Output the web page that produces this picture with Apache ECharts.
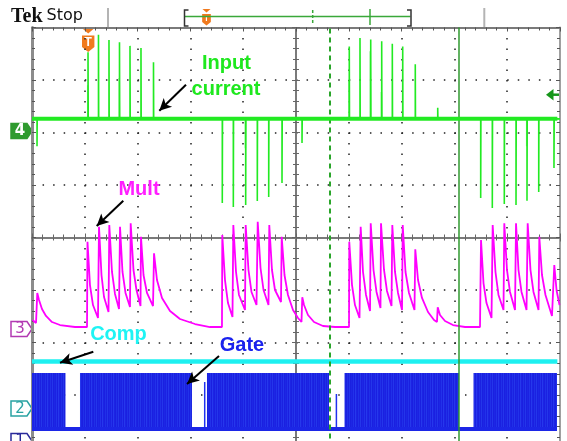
<!DOCTYPE html>
<html><head><meta charset="utf-8">
<script src="https://cdn.jsdelivr.net/npm/echarts@6/dist/echarts.min.js"></script>
<style>html,body{margin:0;padding:0;background:#fff}#c{width:567px;height:441px}</style>
</head><body><div id="c"></div>
<script>
// ---- data (time and amplitude in screen divisions, centre = 0) ----
const inputBase = 2.26;
const inputSpikeTimes  = [-4.905,-3.939,-3.741,-3.542,-3.343,-3.144,-2.936,-2.699,
  -1.396,-1.187,-0.953,-0.733,-0.517,-0.265, 0.114,
  1.009,1.212,1.415,1.623,1.824,2.021,2.259, 2.684,
  3.498,3.718,3.945,4.167,4.375,4.597,4.886];
const inputSpikeValues = [1.74,3.53,3.86,3.76,3.72,3.65,3.61,3.34,
  0.657,0.581,0.619,0.695,0.771,1.038, 1.80,
  3.64,3.80,3.77,3.74,3.69,3.64,3.30, 2.47,
  0.752,0.562,0.638,0.619,0.701,0.867,1.324];
const ghostSpikeTimes  = [-3.945,-3.349,-0.959,1.003,1.406,1.617,4.369];
const ghostSpikeValues = [2.90,3.04,1.70,2.98,3.55,2.77,1.74];

const multPoints = [
 [-4.99,-1.571],[-4.924,-1.629],[-4.900,-1.057],[-4.867,-1.190],[-4.811,-1.362],[-4.735,-1.495],[-4.621,-1.610],[-4.470,-1.667],[-4.186,-1.705],[-3.958,-1.705],
 [-3.949,-0.080],[-3.902,-0.905],[-3.845,-1.286],[-3.750,-1.533],
 [-3.731,0.206],[-3.684,-0.714],[-3.636,-1.133],[-3.551,-1.419],
 [-3.536,0.238],[-3.485,-0.657],[-3.428,-1.076],[-3.352,-1.362],
 [-3.333,0.206],[-3.286,-0.657],[-3.229,-1.057],[-3.144,-1.324],
 [-3.131,0.270],[-3.078,-0.619],[-3.021,-1.0],[-2.945,-1.305],
 [-2.936,0.015],[-2.888,-0.714],[-2.822,-1.057],[-2.708,-1.305],
 [-2.689,-0.301],[-2.633,-0.810],[-2.538,-1.152],[-2.386,-1.40],[-2.197,-1.552],[-1.913,-1.648],[-1.629,-1.705],[-1.402,-1.705],
 [-1.396,0.048],[-1.345,-0.810],[-1.288,-1.248],[-1.203,-1.514],
 [-1.187,0.238],[-1.136,-0.657],[-1.080,-1.095],[-0.966,-1.381],
 [-0.953,0.238],[-0.900,-0.619],[-0.843,-1.038],[-0.748,-1.286],
 [-0.725,0.301],[-0.672,-0.581],[-0.615,-1.0],[-0.521,-1.286],
 [-0.506,0.238],[-0.455,-0.619],[-0.398,-1.0],[-0.284,-1.229],
 [-0.271,0.015],[-0.218,-0.714],[-0.152,-1.095],[-0.057,-1.381],[0.038,-1.533],[0.104,-1.610],
 [0.119,-1.139],[0.152,-1.286],[0.227,-1.476],[0.341,-1.610],[0.511,-1.686],[0.739,-1.705],[1.004,-1.705],
 [1.009,-0.080],[1.061,-0.905],[1.117,-1.286],[1.203,-1.533],
 [1.225,0.206],[1.269,-0.657],[1.326,-1.095],[1.402,-1.4],
 [1.415,0.270],[1.468,-0.619],[1.525,-1.038],[1.600,-1.343],
 [1.610,0.270],[1.667,-0.619],[1.723,-1.019],[1.809,-1.305],
 [1.824,0.238],[1.875,-0.657],[1.932,-1.057],[2.008,-1.381],
 [2.021,0.238],[2.074,-0.657],[2.140,-1.057],[2.244,-1.381],
 [2.259,-0.225],[2.311,-0.810],[2.386,-1.152],[2.500,-1.419],[2.614,-1.571],[2.670,-1.610],
 [2.684,-1.330],[2.727,-1.476],[2.822,-1.590],[2.973,-1.667],[3.201,-1.705],[3.485,-1.705],
 [3.504,-0.048],[3.551,-0.867],[3.608,-1.248],[3.703,-1.533],
 [3.725,0.238],[3.778,-0.657],[3.835,-1.095],[3.930,-1.381],
 [3.945,0.270],[3.996,-0.619],[4.053,-1.038],[4.148,-1.381],
 [4.167,0.270],[4.214,-0.619],[4.271,-1.038],[4.366,-1.381],
 [4.388,0.270],[4.441,-0.619],[4.498,-1.038],[4.593,-1.381],
 [4.608,0.015],[4.659,-0.714],[4.725,-1.095],[4.848,-1.495],[4.877,-1.533],
 [4.892,-0.524],[4.934,-1.0],[4.991,-1.286]
];

const compLevel = -2.362;
const gateHigh = -2.581;
const gateLow = -3.648;
const gateOnStart = [-5.0, -4.091, -1.686, 0.919, 3.362];
const gateOnEnd   = [-4.366, -1.970, 0.625, 3.087, 4.943];
const gatePulseTimes  = [-1.729, 0.765];
const gatePulseValues = [-2.752, -2.981];
const gateEnd = 4.943;
const cursorTimes = [0.625, 3.087];

// ---- build ----
function spikeLine(times, values, base) {
  const d = [[-5, base]];
  times.forEach((t, i) => { d.push([t, base], [t, values[i]], [t + 0.004, base]); });
  d.push([5, base]);
  return d;
}

// subtle striped fill texture for the dense gate switching
const stripe = document.createElement('canvas');
stripe.width = 11; stripe.height = 4;
(function () {
  const c = stripe.getContext('2d');
  const cols = ['#1b22e2', '#2232ea', '#1a1fe0', '#2638ec', '#1c24e4', '#1a20e0', '#2030e8', '#1b21e1', '#2436ea', '#1a20e0', '#1d27e5'];
  cols.forEach((col, i) => { c.fillStyle = col; c.fillRect(i, 0, 1, 4); });
})();

const chart = echarts.init(document.getElementById('c'));
const G = {left: 32, top: 27.5, width: 528, height: 420, containLabel: false, outerBoundsMode: 'none'};

function centreAxis(pos, zeroIdx) {
  const a = {
    type: 'value', gridIndex: 0, position: pos,
    axisLine: {show: true, onZero: true, lineStyle: {color: '#7a7a7a', width: 2, type: [1, 1.1]}},
    axisTick: {show: true, length: 4, lineStyle: {color: '#666', width: 1}},
    minorTick: {show: true, splitNumber: 5, length: 3, lineStyle: {color: '#666', width: 1}},
    axisLabel: {show: false}, splitLine: {show: false}
  };
  if (zeroIdx != null) a.axisLine.onZeroAxisIndex = zeroIdx;
  return a;
}
function borderAxis(pos, color, w) {
  return {
    type: 'value', gridIndex: 1, position: pos,
    axisLine: {show: true, onZero: false, lineStyle: {color: color, width: w}},
    axisTick: {show: true, inside: true, length: 4, lineStyle: {color: '#555'}},
    minorTick: {show: true, splitNumber: 5, length: 3, lineStyle: {color: '#555'}},
    axisLabel: {show: false}, splitLine: {show: false}
  };
}

const x0 = Object.assign(centreAxis('bottom'), {min: -5, max: 5, interval: 1,
  splitLine: {show: true, lineStyle: {color: '#222', width: 1.5, type: [1.5, 9]}}});
const x1 = Object.assign(centreAxis('top', 0), {min: -5, max: 5, interval: 1});
const x2 = Object.assign(borderAxis('top', '#7a7a7a', 2), {min: -5, max: 5, interval: 1});
const y0 = Object.assign(centreAxis('left'), {min: -4, max: 4, interval: 1,
  splitLine: {show: true, lineStyle: {color: '#222', width: 1.5, type: [1.5, 9.06]}}});
const y1 = Object.assign(centreAxis('right', 0), {min: -4, max: 4, interval: 1});
const y2 = Object.assign(borderAxis('left', '#8c8c8c', 3), {min: -4, max: 4, interval: 1});
const y3 = Object.assign(borderAxis('right', '#a0a0a0', 2), {min: -4, max: 4, interval: 1});

function tMarker(cx, top, s) {
  return {
    type: 'group', z: 100, children: [
      {type: 'polygon', shape: {points: [[cx - 5.8*s, top], [cx + 5.8*s, top], [cx, top + 5*s]]}, style: {fill: '#f07a1e'}},
      {type: 'polygon', shape: {points: [[cx - 6.2*s, top + 7*s], [cx + 6.2*s, top + 7*s], [cx + 6.2*s, top + 18.5*s], [cx, top + 23.5*s], [cx - 6.2*s, top + 18.5*s]]}, style: {fill: '#f07a1e'}},
      {type: 'text', style: {text: 'T', x: cx, y: top + 14*s, align: 'center', verticalAlign: 'middle', fill: '#fff', font: 'bold ' + Math.round(12*s) + 'px "Liberation Sans"'}}
    ]
  };
}
function chMarker(label, yc, stroke, fill, textColor) {
  return {
    type: 'group', z: 100, children: [
      {type: 'polygon', shape: {points: [[11, yc - 7.5], [27, yc - 7.5], [32, yc], [27, yc + 7.5], [11, yc + 7.5]]}, style: {fill: fill, stroke: stroke, lineWidth: 1.5}},
      {type: 'text', style: {text: label, x: 20, y: yc + 0.5, align: 'center', verticalAlign: 'middle', fill: textColor, font: (fill === '#fff' ? '' : 'bold ') + '15px "DejaVu Sans"'}}
    ]
  };
}
function label(text, x, y, color) {
  return {type: 'text', z: 100, style: {text: text, x: x, y: y, align: 'center', verticalAlign: 'middle', fill: color, font: 'bold 20px "Liberation Sans"'}};
}
function seg(pts, color, w, dash) {
  return {type: 'polyline', z: 100, shape: {points: pts}, style: {stroke: color, lineWidth: w, lineDash: dash || null, fill: null}};
}

const graphics = [
  {type: 'text', z: 100, style: {text: 'Tek', x: 11, y: 16.5, verticalAlign: 'middle', fill: '#111', font: 'bold 20px "Liberation Serif"'}},
  {type: 'text', z: 100, style: {text: 'Stop', x: 46.5, y: 16, verticalAlign: 'middle', fill: '#111', font: '16px "DejaVu Sans"'}},
  seg([[108, 8], [108, 27]], '#b4b4b4', 2),
  seg([[484.3, 8], [484.3, 27]], '#b4b4b4', 2),
  seg([[185, 16.5], [410.5, 16.5]], '#3aa83a', 1.5),
  seg([[188.5, 10], [184.5, 10], [184.5, 26], [188.5, 26]], '#333', 1.5),
  seg([[407, 10], [411, 10], [411, 26], [407, 26]], '#333', 1.5),
  seg([[312.7, 10], [312.7, 25]], '#3aa83a', 1.5, [3, 2]),
  seg([[370, 9], [370, 25]], '#3aa83a', 1.5),
  tMarker(206.5, 9, 0.7),
  tMarker(88.2, 28.5, 1),
  {type: 'polygon', z: 100, shape: {points: [[546, 94.7], [553.5, 89], [553.5, 100.4]]}, style: {fill: '#16961a'}},
  seg([[553, 94.7], [559, 94.7]], '#16961a', 2.5),
  chMarker('4', 131, '#2f9b2f', '#2f9b2f', '#fff'),
  chMarker('3', 329, '#b23ab2', '#fff', '#b23ab2'),
  chMarker('2', 408.5, '#2aa3a3', '#fff', '#2aa3a3'),
  chMarker('1', 441, '#2a2a9a', '#fff', '#2a2a9a'),
  label('Input', 226.5, 63.5, '#1ee81e'),
  label('current', 226, 89, '#1ee81e'),
  label('Mult', 139, 189.5, '#ff1eff'),
  label('Comp', 118.5, 334.5, '#1ef4f4'),
  label('Gate', 242, 345, '#1a22ee')
];

const arrow = (a, b) => [{x: a[0], y: a[1]}, {x: b[0], y: b[1]}];

chart.setOption({
  animation: false,
  backgroundColor: '#fff',
  grid: [G, Object.assign({}, G)],
  xAxis: [x0, x1, x2],
  yAxis: [y0, y1, y2, y3],
  graphic: graphics,
  series: [
    {
      type: 'custom', xAxisIndex: 0, yAxisIndex: 0, silent: true, z: 2,
      data: gateOnStart.map((s, i) => [s, gateOnEnd[i]]),
      renderItem: (params, api) => {
        const p0 = api.coord([api.value(0), gateHigh]);
        const p1 = api.coord([api.value(1), gateLow]);
        return {type: 'rect', shape: {x: p0[0], y: p0[1], width: p1[0] - p0[0], height: p1[1] - p0[1]},
                style: {fill: {image: stripe, repeat: 'repeat'}}};
      }
    },
    {
      type: 'custom', xAxisIndex: 0, yAxisIndex: 0, silent: true, z: 2,
      data: gatePulseTimes.map((t, i) => [t, gatePulseValues[i]]),
      renderItem: (params, api) => {
        const a = api.coord([api.value(0), gateLow]);
        const b = api.coord([api.value(0), api.value(1)]);
        return {type: 'line', shape: {x1: a[0], y1: a[1], x2: b[0], y2: b[1]}, style: {stroke: '#1f30f0', lineWidth: 1.5}};
      }
    },
    {type: 'line', xAxisIndex: 0, yAxisIndex: 0, silent: true, showSymbol: false, z: 2,
     data: [[-5, gateLow], [gateEnd, gateLow]], lineStyle: {color: '#1c26e6', width: 4}},
    {type: 'line', xAxisIndex: 0, yAxisIndex: 0, silent: true, showSymbol: false, z: 2,
     data: [[-5, gateHigh], [gateEnd, gateHigh]], lineStyle: {color: 'rgba(0,0,0,0)', width: 0},
     markLine: {
       silent: true, symbol: 'none', label: {show: false}, animation: false,
       data: [
         {xAxis: cursorTimes[0], lineStyle: {color: '#2aa52a', width: 2, type: [5, 4]}},
         {xAxis: cursorTimes[1], lineStyle: {color: '#2f9a2f', width: 1.5, type: 'solid'}}
       ]
     }},
    {type: 'line', xAxisIndex: 0, yAxisIndex: 0, silent: true, showSymbol: false, z: 3,
     data: [[-5, compLevel], [4.95, compLevel]], lineStyle: {color: '#1ef0f0', width: 4.5}},
    {type: 'line', xAxisIndex: 0, yAxisIndex: 0, silent: true, showSymbol: false, z: 4,
     data: multPoints, lineStyle: {color: '#ff00ff', width: 1.8}},
    {type: 'line', xAxisIndex: 0, yAxisIndex: 0, silent: true, showSymbol: false, z: 5,
     data: spikeLine(ghostSpikeTimes, ghostSpikeValues, inputBase), lineStyle: {color: '#8cf08c', width: 1.5}},
    {type: 'line', xAxisIndex: 0, yAxisIndex: 0, silent: true, showSymbol: false, z: 6,
     data: spikeLine(inputSpikeTimes, inputSpikeValues, inputBase), lineStyle: {color: '#22ea22', width: 1.6}},
    {type: 'line', xAxisIndex: 0, yAxisIndex: 0, silent: true, showSymbol: false, z: 6,
     data: [[-5, inputBase], [4.95, inputBase]], lineStyle: {color: '#22ea22', width: 4},
     markLine: {
       silent: true, symbol: ['none', 'arrow'], symbolSize: [9, 12], label: {show: false}, animation: false,
       lineStyle: {color: '#000', width: 2, type: 'solid'},
       data: [
         arrow([186, 84.7], [159.3, 110.7]),
         arrow([123.3, 200.7], [96.7, 226]),
         arrow([93.3, 351.7], [60, 362.7]),
         arrow([219, 356], [187, 384])
       ]
     }}
  ]
});
</script>
</body></html>
